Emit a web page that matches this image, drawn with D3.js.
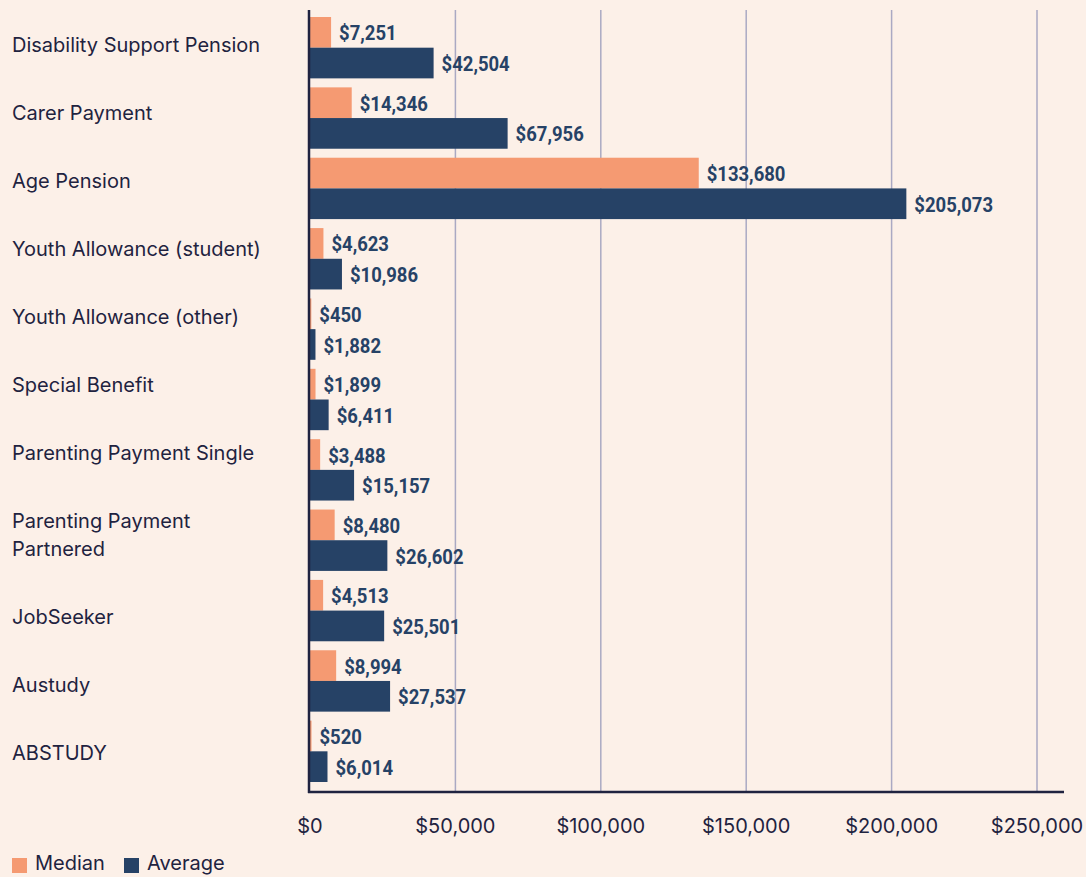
<!DOCTYPE html>
<html>
<head>
<meta charset="utf-8">
<script src="https://cdn.jsdelivr.net/npm/d3@7"></script>
<style>
  html, body { margin: 0; padding: 0; background: #fcf0e8; }
</style>
</head>
<body>
<div id="canvas"></div>
<script>
"use strict";

/* Drawing config */
let svgWidth = 1086;
let svgHeight = 877;
let plotLeft = 310;
let plotTop = 12;
let plotBottom = 786;

let bgColor = "#fcf0e8";
let inkColor = "#1f2340";
let medianColor = "#f59a72";
let averageColor = "#264266";
let gridColor = "#aaa9c3";

/* Data */
let categories = [
  "Disability Support Pension",
  "Carer Payment",
  "Age Pension",
  "Youth Allowance (student)",
  "Youth Allowance (other)",
  "Special Benefit",
  "Parenting Payment Single",
  "Parenting Payment Partnered",
  "JobSeeker",
  "Austudy",
  "ABSTUDY"
];
let medianValues = [7251, 14346, 133680, 4623, 450, 1899, 3488, 8480, 4513, 8994, 520];
let averageValues = [42504, 67956, 205073, 10986, 1882, 6411, 15157, 26602, 25501, 27537, 6014];
let xTicks = [0, 50000, 100000, 150000, 200000, 250000];
let seriesNames = ["Median", "Average"];

let rows = categories.map((c, i) => ({ cat: c, median: medianValues[i], average: averageValues[i] }));

let svg = d3.select("#canvas")
  .append("svg")
  .attr("width", svgWidth)
  .attr("height", svgHeight)
  .style("display", "block");

svg.append("rect")
  .attr("width", svgWidth)
  .attr("height", svgHeight)
  .attr("fill", bgColor);

/* Scales */
let xScale = d3.scaleLinear()
  .domain([0, 250000])
  .range([plotLeft, 1037]);

let yScale = d3.scaleBand()
  .domain(categories)
  .range([plotTop, plotBottom]);

let subScale = d3.scaleBand()
  .domain(["median", "average"])
  .range([5, yScale.bandwidth() - 4]);

let colorOf = { median: medianColor, average: averageColor };

/* Gridlines */
svg.append("g")
  .selectAll("line")
  .data(xTicks.slice(1))
  .join("line")
  .attr("x1", d => xScale(d))
  .attr("x2", d => xScale(d))
  .attr("y1", 10)
  .attr("y2", 791)
  .attr("stroke", gridColor)
  .attr("stroke-width", 1.5);

/* Bars */
let groups = svg.append("g")
  .selectAll("g")
  .data(rows)
  .join("g")
  .attr("transform", d => `translate(0,${yScale(d.cat)})`);

groups.selectAll("rect")
  .data(d => ["median", "average"].map(k => ({ key: k, value: d[k] })))
  .join("rect")
  .attr("x", xScale(0))
  .attr("y", d => subScale(d.key))
  .attr("width", d => xScale(d.value) - xScale(0))
  .attr("height", subScale.bandwidth())
  .attr("fill", d => colorOf[d.key]);

// condensed bold value labels (squeezed horizontally)
groups.selectAll("text")
  .data(d => ["median", "average"].map(k => ({ key: k, value: d[k] })))
  .join("text")
  .attr("transform", d => `translate(${xScale(d.value) + 8},${subScale(d.key) + subScale.bandwidth() / 2 + 2.5}) scale(0.88,1)`)
  .attr("dominant-baseline", "middle")
  .attr("font-family", "Roboto, 'Liberation Sans', sans-serif")
  .attr("font-weight", "bold")
  .attr("font-size", 21)
  .attr("fill", averageColor)
  .text(d => "$" + d3.format(",")(d.value));

/* Axis lines */
svg.append("line")
  .attr("x1", 309).attr("x2", 309)
  .attr("y1", 10).attr("y2", 793)
  .attr("stroke", inkColor)
  .attr("stroke-width", 2.5);

svg.append("line")
  .attr("x1", 308).attr("x2", 1064)
  .attr("y1", 792).attr("y2", 792)
  .attr("stroke", inkColor)
  .attr("stroke-width", 2.5);

/* Category labels: flowed like a list, two-line labels push the rest down */
let labelFont = "Inter, 'Noto Sans', sans-serif";
let lineHeight = 28;
let labelLines = categories.map(c => c === "Parenting Payment Partnered" ? ["Parenting Payment", "Partnered"] : [c]);
let labelY = [];
let cursor = 47;
labelLines.forEach(lines => {
  labelY.push(cursor);
  cursor += 68 + (lines.length - 1) * lineHeight;
});

svg.append("g")
  .selectAll("text")
  .data(labelLines)
  .join("text")
  .attr("font-family", labelFont)
  .attr("font-size", 20)
  .attr("fill", inkColor)
  .attr("dominant-baseline", "middle")
  .selectAll("tspan")
  .data((lines, i) => lines.map((l, j) => ({ text: l, y: labelY[i] + j * lineHeight })))
  .join("tspan")
  .attr("x", 12)
  .attr("y", d => d.y)
  .text(d => d.text);

/* X tick labels */
svg.append("g")
  .selectAll("text")
  .data(xTicks)
  .join("text")
  .attr("x", d => xScale(d))
  .attr("y", 828)
  .attr("text-anchor", "middle")
  .attr("dominant-baseline", "middle")
  .attr("font-family", labelFont)
  .attr("font-size", 20)
  .attr("fill", inkColor)
  .text(d => "$" + d3.format(",")(d));

/* Legend */
let legendX = [12, 124];
let legend = svg.append("g")
  .selectAll("g")
  .data(seriesNames)
  .join("g")
  .attr("transform", (d, i) => `translate(${legendX[i]},858)`);

legend.append("rect")
  .attr("width", 15)
  .attr("height", 15)
  .attr("fill", (d, i) => i === 0 ? medianColor : averageColor);

legend.append("text")
  .attr("x", 23)
  .attr("y", 7)
  .attr("dominant-baseline", "middle")
  .attr("font-family", labelFont)
  .attr("font-size", 20)
  .attr("fill", inkColor)
  .text(d => d);
</script>
</body>
</html>
